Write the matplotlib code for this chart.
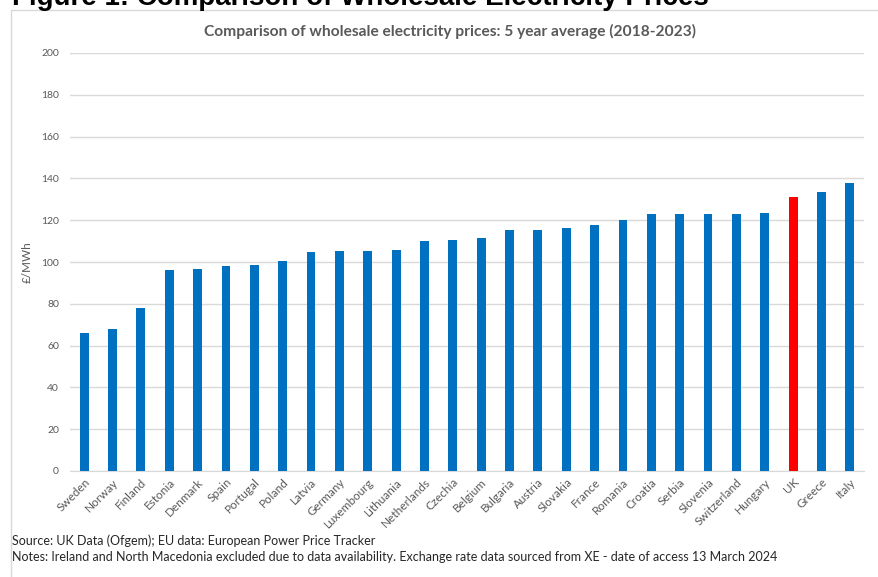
import matplotlib.pyplot as plt
from matplotlib.patches import Rectangle

plt.rcParams['font.family'] = ['Lato', 'DejaVu Sans']

countries = ["Sweden", "Norway", "Finland", "Estonia", "Denmark", "Spain", "Portugal",
             "Poland", "Latvia", "Germany", "Luxembourg", "Lithuania", "Netherlands",
             "Czechia", "Belgium", "Bulgaria", "Austria", "Slovakia", "France", "Romania",
             "Croatia", "Serbia", "Slovenia", "Switzerland", "Hungary", "UK", "Greece", "Italy"]
prices = [65.8, 67.9, 77.9, 96.4, 96.8, 98.2, 98.6, 100.6, 104.7, 105.5, 105.5, 105.9,
          110.0, 110.7, 111.4, 115.3, 115.3, 116.1, 117.5, 120.0, 122.8, 122.8, 123.0,
          123.0, 123.4, 131.3, 133.4, 138.0]
highlight = "UK"

blue = "#0070C0"
red = "#FF0000"
grey_txt = "#595959"

fig = plt.figure(figsize=(8.79, 5.77), dpi=100)
W, H = 879, 577

# outer chart frame
fig.patches.append(Rectangle((11 / W, -0.01), 1.0, 1 - 10 / H + 0.01, transform=fig.transFigure,
                             fill=False, edgecolor="#d9d9d9", linewidth=1))

# heading is cut off at the top edge, as in the source image
fig.text(12 / W, 1 - 5 / H, "Figure 1: Comparison of Wholesale Electricity Prices",
         family=['Liberation Sans'], fontweight='bold', fontsize=20, va='baseline', ha='left')

ax = fig.add_axes([70 / W, 1 - 471 / H, (864 - 70) / W, (471 - 53) / H])

colors = [red if c == highlight else blue for c in countries]
x = list(range(len(countries)))
ax.bar(x, prices, width=0.31, color=colors, zorder=3)

ax.set_xlim(-0.5, len(countries) - 0.5)
ax.set_ylim(0, 200)
ax.set_yticks(range(0, 201, 20))
ax.yaxis.grid(True, color="#d9d9d9", linewidth=1, zorder=0)
ax.tick_params(axis='y', length=0, labelsize=7.5, labelcolor=grey_txt, pad=8)
ax.tick_params(axis='x', length=0, labelsize=8.5, labelcolor=grey_txt, pad=4)
ax.set_xticks(x)
ax.set_xticklabels(countries, rotation=45, ha='right', rotation_mode='anchor')
for s in ['top', 'right', 'left']:
    ax.spines[s].set_visible(False)
ax.spines['bottom'].set_color("#d9d9d9")
ax.set_ylabel("£/MWh", fontsize=8.5, color=grey_txt)
ax.yaxis.set_label_coords(-0.047, 0.5)

fig.text(450 / W, 1 - 31 / H, "Comparison of wholesale electricity prices: 5 year average (2018-2023)",
         ha='center', va='center', fontsize=11.2, fontweight='bold', color=grey_txt)

fig.text(12 / W, 1 - 541 / H, "Source: UK Data (Ofgem); EU data: European Power Price Tracker",
         ha='left', va='center', fontsize=9, color="#262626")
fig.text(12 / W, 1 - 557 / H,
         "Notes: Ireland and North Macedonia excluded due to data availability. "
         "Exchange rate data sourced from XE - date of access 13 March 2024",
         ha='left', va='center', fontsize=9, color="#262626")

fig.savefig("out.png", dpi=100)
